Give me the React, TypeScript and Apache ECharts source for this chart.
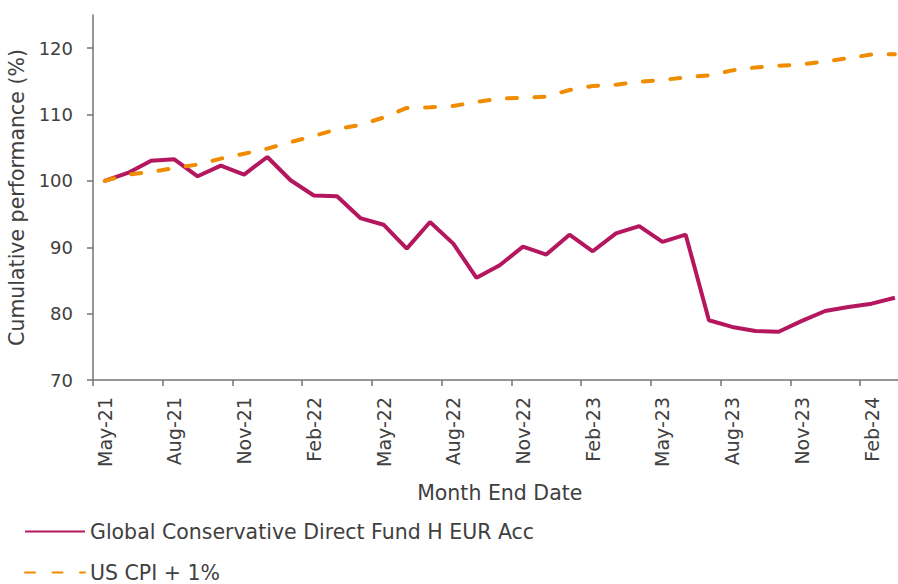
import React, { useEffect, useRef } from "react";
import * as echarts from "echarts";

const months: string[] = [
  "May-21", "Jun-21", "Jul-21", "Aug-21", "Sep-21", "Oct-21", "Nov-21", "Dec-21",
  "Jan-22", "Feb-22", "Mar-22", "Apr-22", "May-22", "Jun-22", "Jul-22", "Aug-22",
  "Sep-22", "Oct-22", "Nov-22", "Dec-22", "Jan-23", "Feb-23", "Mar-23", "Apr-23",
  "May-23", "Jun-23", "Jul-23", "Aug-23", "Sep-23", "Oct-23", "Nov-23", "Dec-23",
  "Jan-24", "Feb-24", "Mar-24",
];

const fundName = "Global Conservative Direct Fund H EUR Acc";
const fundValues: number[] = [
  100, 101.2, 103.05, 103.25, 100.7, 102.3, 100.95, 103.6, 100.1, 97.8,
  97.7, 94.4, 93.4, 89.8, 93.8, 90.55, 85.4, 87.3, 90.1, 88.9,
  91.9, 89.4, 92.1, 93.2, 90.8, 91.9, 79.0, 78.0, 77.37, 77.27,
  78.9, 80.4, 81.0, 81.5, 82.4,
];

const cpiName = "US CPI + 1%";
const cpiValues: number[] = [
  100, 100.96, 101.35, 101.96, 102.46, 103.36, 104.1, 104.86, 105.86, 106.76,
  107.8, 108.45, 109.55, 111.0, 111.1, 111.3, 111.9, 112.4, 112.55, 112.7,
  113.7, 114.3, 114.5, 114.95, 115.2, 115.6, 115.9, 116.65, 117.1, 117.35,
  117.55, 118.0, 118.5, 119.05, 119.1,
];

const yTicks: number[] = [70, 80, 90, 100, 110, 120];

const FONT = "DejaVu Sans";
const TEXT = "#404040";
const AXIS = "#757575";

export default function App() {
  const ref = useRef<HTMLDivElement>(null);

  useEffect(() => {
    if (!ref.current) return;
    const chart = echarts.init(ref.current, null, { renderer: "svg" });
    const legendBase = {
      orient: "vertical",
      left: 24,
      padding: 0,
      itemWidth: 60,
      itemHeight: 14,
      itemStyle: { color: "transparent", borderWidth: 0, opacity: 0 },
      textStyle: { fontFamily: FONT, fontSize: 20.5, lineHeight: 16, color: TEXT },
    };
    chart.setOption({
      animation: false,
      backgroundColor: "#ffffff",
      textStyle: { fontFamily: FONT, color: TEXT },
      grid: {
        left: 93,
        top: 15,
        height: 365,
        width: 813.5,
        containLabel: false,
        outerBoundsMode: "none",
      },
      legend: [
        { ...legendBase, top: 521, data: [fundName] },
        { ...legendBase, top: 562, data: [cpiName] },
      ],
      xAxis: {
        type: "category",
        data: months,
        boundaryGap: true,
        name: "Month End Date",
        nameLocation: "middle",
        nameGap: 102,
        nameTextStyle: { fontFamily: FONT, fontSize: 20.5, color: TEXT },
        axisLine: { lineStyle: { color: AXIS, width: 1.5 } },
        axisTick: { show: true, interval: 2, length: 6, lineStyle: { color: AXIS, width: 1.5 } },
        axisLabel: {
          interval: 2,
          rotate: 90,
          margin: 17,
          fontFamily: FONT,
          fontSize: 19,
          color: TEXT,
        },
        splitLine: { show: false },
      },
      yAxis: {
        type: "value",
        min: 70,
        max: 125,
        name: "Cumulative performance (%)",
        nameLocation: "middle",
        nameGap: 58,
        nameRotate: 90,
        nameTextStyle: { fontFamily: FONT, fontSize: 20.5, color: TEXT },
        axisLine: { show: true, lineStyle: { color: AXIS, width: 1.5 } },
        axisTick: { show: true, length: 6, customValues: yTicks, lineStyle: { color: AXIS, width: 1.5 } },
        axisLabel: {
          customValues: yTicks,
          margin: 20,
          fontFamily: FONT,
          fontSize: 18,
          color: TEXT,
        },
        splitLine: { show: false },
      },
      series: [
        {
          name: fundName,
          type: "line",
          data: fundValues,
          symbol: "none",
          lineStyle: { color: "#B5175E", width: 4 },
          itemStyle: { color: "#B5175E" },
        },
        {
          name: cpiName,
          type: "line",
          data: cpiValues,
          symbol: "none",
          lineStyle: { color: "#F08C00", width: 4, type: [10, 17.5], cap: "round" },
          itemStyle: { color: "#F08C00" },
        },
      ],
    });
    return () => chart.dispose();
  }, []);

  return (
    <div
      ref={ref}
      style={{ position: "fixed", left: 0, top: 0, width: 898, height: 584, background: "#fff" }}
    />
  );
}
